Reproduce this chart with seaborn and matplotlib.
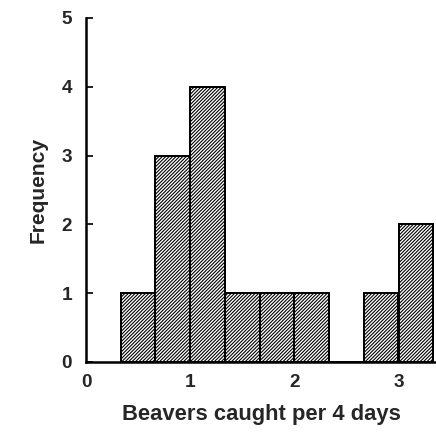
import matplotlib
matplotlib.use("Agg")
import matplotlib.pyplot as plt
import seaborn as sns

# Data
bin_edges = [1/3, 2/3, 1.0, 4/3, 5/3, 2.0, 7/3, 8/3, 3.0, 10/3]
frequencies = [1, 3, 4, 1, 1, 1, 0, 1, 2]
bin_centers = [(a + b) / 2 for a, b in zip(bin_edges[:-1], bin_edges[1:])]
x_ticks = [0, 1, 2, 3]
y_ticks = [0, 1, 2, 3, 4, 5]

sns.set_style("white")
plt.rcParams['font.family'] = ['Liberation Sans', 'DejaVu Sans']
plt.rcParams['hatch.linewidth'] = 1.1
plt.rcParams['hatch.color'] = 'black'

DPI = 72
fig = plt.figure(figsize=(436 / DPI, 435 / DPI), dpi=DPI)
ax = fig.add_axes([86/436, 1 - 362/435, (436 - 86)/436, (362 - 18)/435])

sns.histplot(x=bin_centers, weights=frequencies, bins=bin_edges, ax=ax,
             color="white", edgecolor="black", linewidth=2, alpha=1,
             hatch="///////")

ax.set_xlim(0, 3.36)
ax.set_ylim(0, 5)
ax.set_xticks(x_ticks)
ax.set_yticks(y_ticks)
ax.set_xticklabels([str(t) for t in x_ticks], fontsize=19, fontweight='bold')
ax.set_yticklabels([str(t) for t in y_ticks], fontsize=19, fontweight='bold', rotation=0)
ax.tick_params(axis='x', length=0, pad=12)
ax.tick_params(axis='y', direction='in', length=7, width=2, pad=14, left=True)

sns.despine(ax=ax)
for s in ['left', 'bottom']:
    ax.spines[s].set_linewidth(2.5)
    ax.spines[s].set_color('black')

ax.set_xlabel("Beavers caught per 4 days", fontsize=22, fontweight='bold', labelpad=13)
ax.set_ylabel("Frequency", fontsize=21, fontweight='bold', labelpad=14, rotation=90)

fig.savefig("out.png", dpi=DPI)
